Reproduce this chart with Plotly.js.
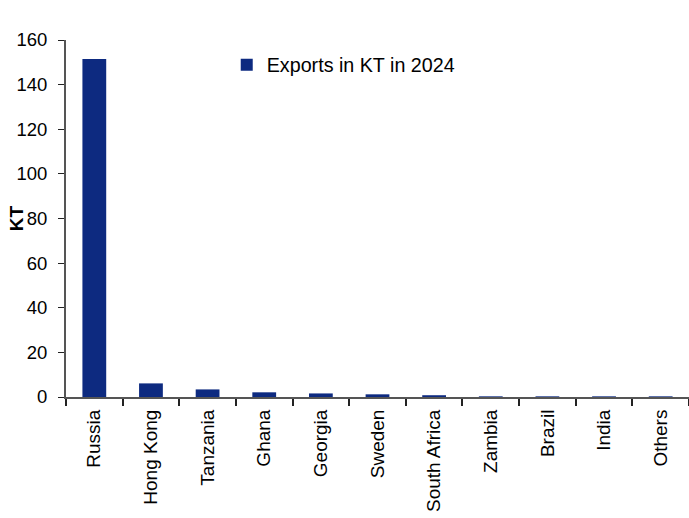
<!DOCTYPE html>
<html><head><meta charset="utf-8">
<script src="https://cdn.plot.ly/plotly-3.0.1.min.js"></script>
<style>body{margin:0;padding:0;background:#fff}#chart{width:689px;height:518px}</style>
</head><body><div id="chart"></div>
<script>
const categories = ["Russia","Hong Kong","Tanzania","Ghana","Georgia","Sweden","South Africa","Zambia","Brazil","India","Others"];
const exportsKT = [151.5, 6.1, 3.4, 2.1, 1.6, 1.2, 0.8, 0.3, 0.3, 0.3, 0.3];
const seriesName = "Exports in KT in 2024";
const yTicks = [0,20,40,60,80,100,120,140,160];

const fam = "Liberation Sans, Arial, sans-serif";
const font = {family: fam, size: 19, color: "#000"};
Plotly.newPlot("chart", [{
  type: "bar", x: categories, y: exportsKT, name: seriesName,
  marker: {color: "#0D2A80", line: {width: 0}},
  showlegend: true
}], {
  width: 689, height: 518,
  margin: {l: 66, r: 0, t: 40, b: 121},
  paper_bgcolor: "#fff", plot_bgcolor: "#fff",
  font: font,
  bargap: 0.58,
  showlegend: true,
  legend: {x: 0.258, y: 0.985, xanchor: "left", yanchor: "top", bgcolor: "rgba(0,0,0,0)", font: {family: fam, size: 19.7}, itemwidth: 30},
  xaxis: {
    type: "category", tickangle: -90, showline: true, linecolor: "#555", linewidth: 2,
    ticks: "outside", ticklen: 7, tickwidth: 2, tickcolor: "#222", tickson: "boundaries",
    showgrid: false, zeroline: false, tickfont: font, range: [-0.5, 10.5], ticklabelstandoff: 3
  },
  yaxis: {
    range: [0, 160], tickvals: yTicks, showline: true, linecolor: "#555", linewidth: 2,
    ticks: "outside", ticklen: 6, tickwidth: 1, tickcolor: "#222",
    showgrid: false, zeroline: false, tickfont: {family: fam, size: 18.5, color: "#000"}, ticklabelstandoff: 7
  },
  annotations: [{
    text: "<b>KT</b>", xref: "paper", yref: "paper", x: -0.079, y: 0.5,
    xanchor: "center", yanchor: "middle", textangle: -90, showarrow: false,
    font: {family: fam, size: 19, color: "#000"}
  }]
}, {displayModeBar: false, staticPlot: true});
</script></body></html>
